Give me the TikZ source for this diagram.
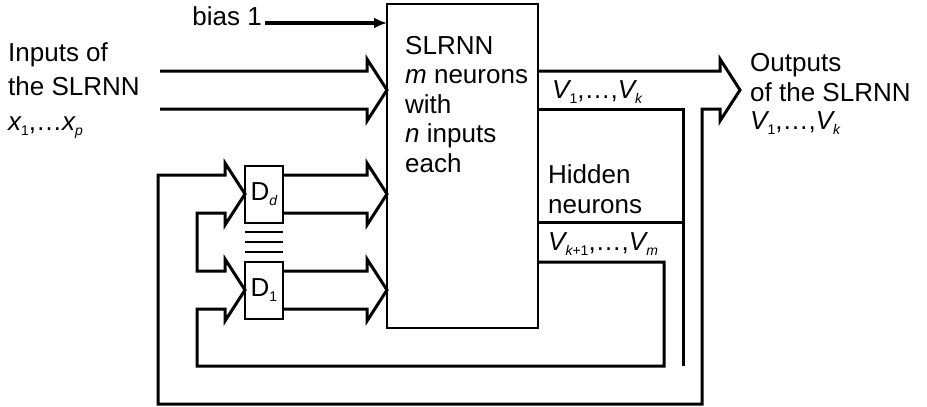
\documentclass[tikz,border=0pt]{standalone}
\usepackage{fontspec}
\setmainfont{Liberation Sans}
\usetikzlibrary{arrows.meta,calc}
\newcommand\lsub[1]{\raisebox{-5pt}{\fontsize{14}{14}\selectfont #1}}
\begin{document}
\begin{tikzpicture}[x=1pt,y=-1pt,
  wire/.style={line width=3pt},
  box/.style={draw,line width=2pt,inner sep=0pt,outer sep=0pt},
  lbl/.style={font=\fontsize{26}{30}\selectfont,inner sep=0pt,anchor=base west},
  chev/.style={insert path={-- ($(#1)+(-20,-19)$) -- ++(0,-12) -- (#1) -- ++(-20,31) -- ++(0,-12)}}
]
\useasboundingbox (0,0) rectangle (927,407);
% boxes
\node[box,minimum width=151pt,minimum height=324pt] (slrnn) at (462.5,166) {};
\node[box,minimum width=38pt,minimum height=57pt,font=\fontsize{26}{30}\selectfont] (dd) at (264,194) {D\lsub{\itshape d}};
\node[box,minimum width=38pt,minimum height=57pt,font=\fontsize{26}{30}\selectfont] (d1) at (264,290) {D\lsub{1}};
% texts
\node[lbl,anchor=base east] (bias) at (262,25) {bias 1};
\node[lbl] (in1) at (8,61) {Inputs of};
\node[lbl] (in2) at (8,95) {the SLRNN};
\node[lbl] (in3) at (8,130) {{\itshape x}\lsub{1},…{\itshape x}\lsub{\itshape p}};
\node[lbl] (t1) at (405,54) {SLRNN};
\node[lbl] (t2) at (405,83.5) {{\itshape m} neurons};
\node[lbl] (t3) at (405,113) {with};
\node[lbl] (t4) at (405,142.5) {{\itshape n} inputs};
\node[lbl] (t5) at (405,172) {each};
\node[lbl] (vk) at (552,98) {{\itshape V}\lsub{1},…,{\itshape V}\lsub{\itshape k}};
\node[lbl] (h1) at (548,183) {Hidden};
\node[lbl] (h2) at (548,213) {neurons};
\node[lbl] (vm) at (548,250) {{\itshape V}\lsub{{\itshape k}+1},…,{\itshape V}\lsub{\itshape m}};
\node[lbl] (o1) at (750,71) {Outputs};
\node[lbl] (o2) at (750,101) {of the SLRNN};
\node[lbl] (o3) at (750,129) {{\itshape V}\lsub{1},…,{\itshape V}\lsub{\itshape k}};
% coordinates
\coordinate (inA) at (160,71);
\coordinate (inB) at (160,109);
\coordinate (inTip) at ($(slrnn.west |- inA)!0.5!(slrnn.west |- inB)$);
\coordinate (oA) at (slrnn.east |- inA);
\coordinate (outTip) at (740,90);
\coordinate (ddTip) at (slrnn.west |- dd.west);
\coordinate (d1Tip) at (slrnn.west |- d1.west);
\coordinate (biasS) at (265,23);
\coordinate (vend) at (683,366);
% bias
\draw[line width=3.4pt,-{Latex[length=13pt,width=11pt]}] (biasS) -- (slrnn.west |- biasS);
% input bus
\draw[wire] (inA) [chev=inTip] -- (inB);
% delay outputs
\draw[wire] (dd.east |- 0,175) [chev=ddTip] -- (dd.east |- 0,213);
\draw[wire] (d1.east |- 0,271) [chev=d1Tip] -- (d1.east |- 0,309);
% output bus and feedback loop
\draw[wire] (oA) [chev=outTip] -- (702,109) -- (702,404) -- (158,404) -- (158,175)
  [chev=dd.west] -- (197,213) -- (197,271) [chev=d1.west] -- (197,309) -- (197,366)
  -- (664,366) -- (664,262) -- (slrnn.east |- 0,262);
% hidden taps
\draw[wire] (slrnn.east |- 0,109) -- (vend |- 0,109) -- (vend);
\draw[wire] (slrnn.east |- 0,222) -- (vend |- 0,222);
% dots between delays
\foreach \yy in {232,242,252} \draw[line width=2pt] (dd.west |- 0,\yy) -- (dd.east |- 0,\yy);
\end{tikzpicture}
\end{document}
